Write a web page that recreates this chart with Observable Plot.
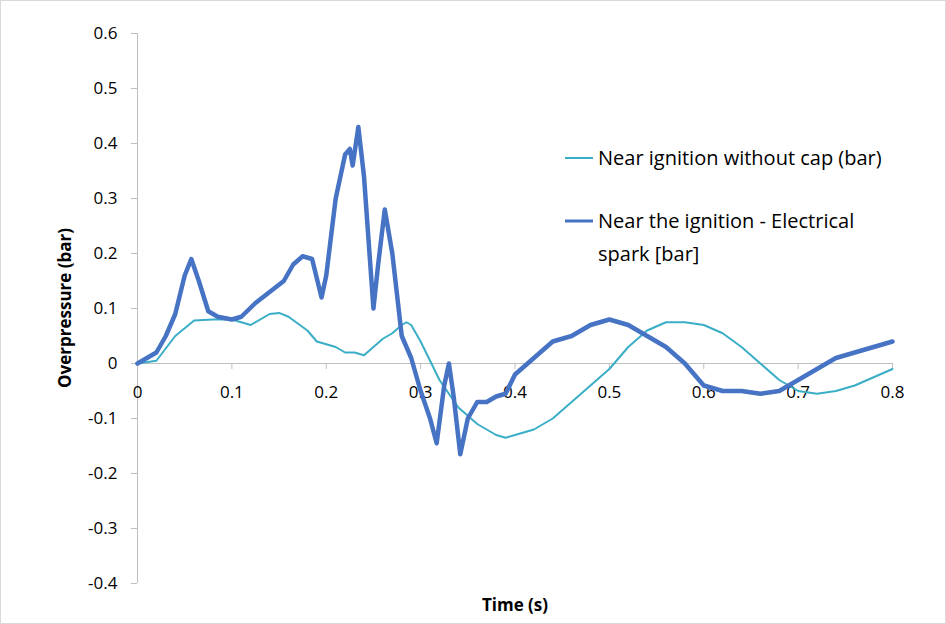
<!DOCTYPE html>
<html><head><meta charset="utf-8">
<script src="https://cdn.jsdelivr.net/npm/d3@7"></script>
<script src="https://cdn.jsdelivr.net/npm/@observablehq/plot@0.6"></script>
<style>body{margin:0;background:#fff}#c{position:relative;width:944px;height:622px;border:1px solid #d9d9d9;font-family:"Open Sans",Calibri,sans-serif}</style>
</head><body><div id="c"></div>
<script>
const sparkT=[0,0.01,0.02,0.03,0.04,0.05,0.057,0.065,0.075,0.085,0.1,0.11,0.125,0.14,0.155,0.165,0.175,0.185,0.195,0.2,0.21,0.22,0.225,0.228,0.234,0.24,0.25,0.255,0.262,0.27,0.28,0.29,0.3,0.31,0.317,0.325,0.33,0.335,0.342,0.35,0.36,0.37,0.38,0.39,0.4,0.42,0.44,0.46,0.48,0.5,0.52,0.54,0.56,0.58,0.6,0.62,0.64,0.66,0.68,0.7,0.72,0.74,0.76,0.78,0.8];
const sparkV=[0,0.01,0.02,0.05,0.09,0.16,0.19,0.15,0.095,0.085,0.08,0.085,0.11,0.13,0.15,0.18,0.195,0.19,0.12,0.16,0.3,0.38,0.39,0.36,0.43,0.34,0.1,0.18,0.28,0.2,0.05,0.01,-0.05,-0.1,-0.145,-0.04,0.0,-0.06,-0.165,-0.1,-0.07,-0.07,-0.06,-0.055,-0.02,0.01,0.04,0.05,0.07,0.08,0.07,0.05,0.03,0.0,-0.04,-0.05,-0.05,-0.055,-0.05,-0.03,-0.01,0.01,0.02,0.03,0.04];
const capT=[0,0.02,0.04,0.06,0.08,0.1,0.12,0.14,0.15,0.16,0.18,0.19,0.2,0.21,0.22,0.23,0.24,0.25,0.26,0.27,0.28,0.285,0.29,0.3,0.32,0.34,0.36,0.38,0.39,0.4,0.42,0.44,0.46,0.48,0.5,0.52,0.54,0.56,0.58,0.6,0.62,0.64,0.66,0.68,0.7,0.72,0.74,0.76,0.78,0.8];
const capV=[0,0.005,0.05,0.078,0.08,0.08,0.07,0.09,0.092,0.085,0.06,0.04,0.035,0.03,0.02,0.02,0.015,0.03,0.045,0.055,0.07,0.075,0.07,0.04,-0.03,-0.08,-0.11,-0.13,-0.135,-0.13,-0.12,-0.1,-0.07,-0.04,-0.01,0.03,0.06,0.075,0.075,0.07,0.055,0.03,0.0,-0.03,-0.05,-0.055,-0.05,-0.04,-0.025,-0.01];
const xTicks=[0,0.1,0.2,0.3,0.4,0.5,0.6,0.7,0.8];
const yTicks=[-0.4,-0.3,-0.2,-0.1,0,0.1,0.2,0.3,0.4,0.5,0.6];
const seriesNames=["Near ignition without cap (bar)","Near the ignition - Electrical spark [bar]"];
const colors=["#3aaec6","#4673c4"];
const spark=sparkT.map((t,i)=>({t,v:sparkV[i]}));
const cap=capT.map((t,i)=>({t,v:capV[i]}));
const fmt=d=>d===0?"0":d3.format(".1f")(d).replace("−","-");
const chart=Plot.plot({
  width:944,height:622,marginLeft:136,marginRight:53,marginTop:32,marginBottom:40,
  style:{fontFamily:"'Open Sans',sans-serif",fontSize:"16px",color:"#000"},
  x:{type:"linear",domain:[0,0.8],axis:null},
  y:{type:"linear",domain:[-0.4,0.6],ticks:yTicks,tickSize:6,tickFormat:fmt,label:null,tickPadding:14},
  marks:[
    Plot.ruleY([0],{stroke:"#bfbfbf"}),
    Plot.ruleX([0],{stroke:"#bfbfbf"}),
    Plot.ruleX(xTicks,{x:d=>d,y1:0,y2:-0.011,stroke:"#bfbfbf"}),
    Plot.text(xTicks,{x:d=>d,y:0,text:fmt,dy:29,fontSize:17}),
    Plot.line(cap,{x:"t",y:"v",stroke:colors[0],strokeWidth:2}),
    Plot.line(spark,{x:"t",y:"v",stroke:colors[1],strokeWidth:4.5})
  ]
});
const svg=d3.select(chart);
svg.selectAll("[aria-label='y-axis tick'] path").attr("stroke","#bfbfbf");
svg.selectAll("[aria-label='y-axis tick label'] text").style("font-size","17px");
svg.append("text").attr("x",514).attr("y",610).attr("text-anchor","middle").attr("font-weight","bold").attr("font-size",17).text("Time (s)");
svg.append("text").attr("transform","translate(70,307) rotate(-90)").attr("text-anchor","middle").attr("font-weight","bold").attr("font-size",17).text("Overpressure (bar)");
const leg=[{y:157,lines:[seriesNames[0]]},{y:220,lines:["Near the ignition - Electrical","spark [bar]"]}];
leg.forEach((l,i)=>{
  svg.append("line").attr("x1",564).attr("x2",592).attr("y1",l.y).attr("y2",l.y).attr("stroke",colors[i]).attr("stroke-width",i?3:2);
  l.lines.forEach((s,j)=>svg.append("text").attr("x",597).attr("y",l.y+7+j*33).attr("text-anchor","start").attr("font-size",20).text(s));
});
document.getElementById("c").appendChild(chart);
</script></body></html>
